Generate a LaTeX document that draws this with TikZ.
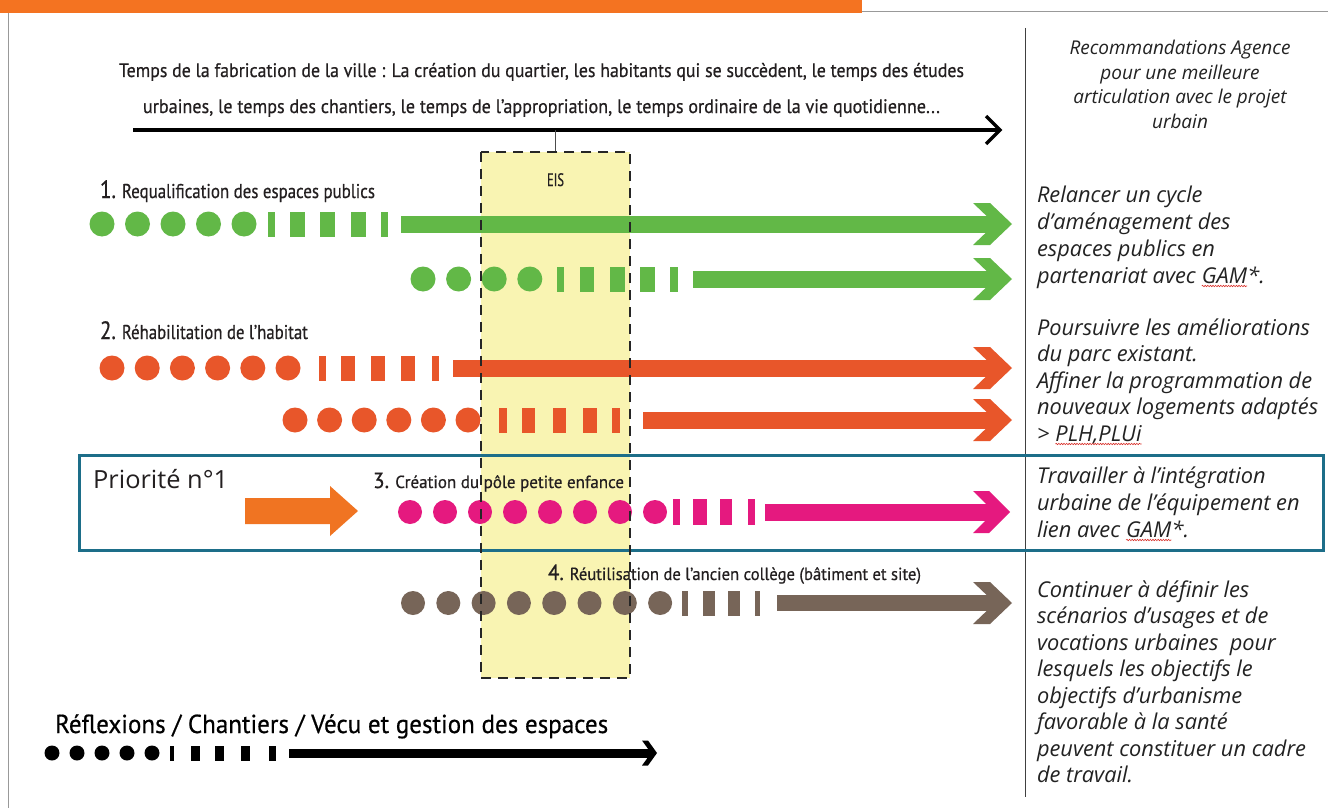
\documentclass[tikz,border=0pt]{standalone}
\usepackage{fontspec}
\setmainfont[FakeBold=0.6]{PT Sans}
\newfontfamily\osans{Open Sans}
\usepackage{graphicx}
\usetikzlibrary{decorations.pathmorphing}
\definecolor{barorg}{HTML}{F47321}
\definecolor{grn}{HTML}{62B847}
\definecolor{rorg}{HTML}{E8562A}
\definecolor{mag}{HTML}{E5197F}
\definecolor{brn}{HTML}{776558}
\definecolor{porg}{HTML}{F07422}
\definecolor{eisy}{HTML}{F9F4B2}
\definecolor{blu}{HTML}{1D6E89}
\definecolor{ink}{HTML}{231F20}
\definecolor{rtink}{HTML}{222222}
\definecolor{wavered}{HTML}{D9302A}
\newsavebox\fitbox
\newcommand\fitw[2]{\sbox\fitbox{#2}\pgfmathsetmacro\fitsx{#1/\the\wd\fitbox}\scalebox{\fitsx}[1]{\usebox\fitbox}}
\newcommand\fs[1]{\fontsize{#1}{#1}\selectfont}
\newcommand\redwave[1]{\tikz[baseline=(w.base), x=1pt, y=1pt]{\node[inner sep=0pt, outer sep=0pt, anchor=base west] (w) at (0,0) {#1};
  \draw[wavered, line width=0.6pt, decorate, decoration={snake, amplitude=0.7pt, segment length=2.6pt}] ([yshift=-3pt]w.base west) -- ([yshift=-3pt]w.base east);}}
% dot row: colour, y, x0, dx, last index, radius
\newcommand\drow[6]{\foreach \k in {0,...,#5} \fill[#1] ({#3+#4*\k},#2) circle[radius=#6];}
% bar row: colour, y, half height, list x1/x2
\newcommand\brow[4]{\foreach \a/\b in {#4} \fill[#1] (\a,#2-#3) rectangle (\b,#2+#3);}
% arrow line: colour, start, tip, line width, head depth, half height, arm width
\newcommand\arrowline[7]{%
  \draw[#1, line width=#4pt] (#2) -- ([xshift={-0.6*#7}]#3);
  \fill[#1] ([shift={(-#5,-#6)}]#3) -- ([shift={(-#5+#7,-#6)}]#3) -- (#3)
    -- ([shift={(-#5+#7,#6)}]#3) -- ([shift={(-#5,#6)}]#3) -- ([shift={(-#7,0)}]#3) -- cycle;}
\tikzset{
  lab/.style={anchor=base west, inner sep=0pt, outer sep=0pt, text=ink, font={\fs{20}}},
  labs/.style={anchor=base west, inner sep=0pt, outer sep=0pt, text=ink, font={\fs{17.5}}},
  toptext/.style={anchor=base, inner sep=0pt, outer sep=0pt, text=ink, font={\fs{19.5}}},
  rhead/.style={anchor=base, inner sep=0pt, outer sep=0pt, text=rtink, font={\osans\itshape\fs{19}}},
  rtext/.style={anchor=base west, inner sep=0pt, outer sep=0pt, text=rtink, font={\osans\itshape\fs{21.8}}},
  frameline/.style={draw=gray!80, line width=1pt},
  eisborder/.style={draw=black!85, line width=1.8pt, dash pattern=on 10pt off 7pt}
}
\begin{document}
\begin{tikzpicture}[x=1pt,y=-1pt]
\useasboundingbox (0,0) rectangle (1328,808);
\fill[white] (0,0) rectangle (1328,808);
% frame
\coordinate (f0) at (8,808); \coordinate (f1) at (8,12); \coordinate (f2) at (1328,12);
\draw[frameline] (f0) -- (f1) -- (f2);
\fill[barorg] (0,0) rectangle (862,13);
% separator
\coordinate (s0) at (1025,28); \coordinate (s1) at (1025,797);
\draw[draw=black!75, line width=1pt] (s0) -- (s1);
% EIS band
\node[fill=eisy, minimum width=149pt, minimum height=526pt, inner sep=0pt] (eis) at (555.5,415) {};
% priority box
\node[draw=blu, line width=3pt, minimum width=1244pt, minimum height=95pt, inner sep=0pt] (prio) at (701,502.5) {};
% timeline
\node[toptext] (t1) at (541.5,77) {\fitw{845}{Temps de la fabrication de la ville : La création du quartier, les habitants qui se succèdent, le temps des études}};
\node[toptext] (t2) at (541.5,113) {\fitw{797}{urbaines, le temps des chantiers, le temps de l’appropriation, le temps ordinaire de la vie quotidienne...}};
\coordinate (tl0) at (133,130); \coordinate (tl1) at (1000,130);
\draw[line width=3.5pt] (tl0) -- ([xshift=-1]tl1);
\draw[line width=3.5pt] ([shift={(-14,-14)}]tl1) -- (tl1) -- ([shift={(-14,14)}]tl1);
\draw[line width=1pt, black!70] (eis.north |- tl0) -- (eis.north);
\node[anchor=base, inner sep=0pt, text=ink, font={\fs{18}}] (eislab) at (555.5,186) {\fitw{17}{EIS}};
% row 1
\node[lab] (l1) at (100,198) {\fitw{275}{{\fs{25}1.} Requalification des espaces publics}};
\drow{grn}{224}{102}{35.5}{4}{12.5}
\brow{grn}{224}{12.5}{268/275,290/305,320/335,351/366,381/388}
\coordinate (r1s) at (401,224); \coordinate (r1e) at (1012,224);
\arrowline{grn}{r1s}{r1e}{17}{39}{21}{17}
% row 2
\drow{grn}{279}{423}{35.6}{3}{12.5}
\brow{grn}{279}{12.5}{557/564,580/594,610/625,640/655,670/678}
\coordinate (r2s) at (693,279); \coordinate (r2e) at (1012,279);
\arrowline{grn}{r2s}{r2e}{17}{39}{21}{17}
% row 3
\node[lab] (l2) at (100,339) {\fitw{208}{{\fs{25}2.} Réhabilitation de l’habitat}};
\drow{rorg}{368}{112}{35.2}{5}{12.5}
\brow{rorg}{368}{12.5}{319/326,341/355,371/385,401/415,432/439}
\coordinate (r3s) at (453,368); \coordinate (r3e) at (1012,368);
\arrowline{rorg}{r3s}{r3e}{17}{39}{21}{17}
% row 4
\drow{rorg}{420}{295}{34.6}{5}{12.5}
\brow{rorg}{420}{12.5}{499/507,522/535,553/566,583/597,612/620}
\coordinate (r4s) at (643,420); \coordinate (r4e) at (1012,420);
\arrowline{rorg}{r4s}{r4e}{17}{39}{21}{17}
% priority
\node[anchor=base west, inner sep=0pt, text=ink, font={\osans\fs{25}}] (prlab) at (93,488) {\fitw{135}{Priorité n°1}};
\coordinate (p0) at (245,511); \coordinate (p1) at (358,511);
\fill[porg] ([shift={(0,-13)}]p0) -- ([shift={(-28,-13)}]p1) -- ([shift={(-28,-25)}]p1) -- (p1)
  -- ([shift={(-28,25)}]p1) -- ([shift={(-28,13)}]p1) -- ([shift={(0,13)}]p0) -- cycle;
% row 5
\node[labs] (l3) at (373,488) {\fitw{251}{{\fs{22}3.} Création du pôle petite enfance}};
\drow{mag}{512}{410}{35}{7}{12}
\brow{mag}{512}{13}{673/680,693/707,720/732,748/755}
\coordinate (r5s) at (765,512); \coordinate (r5e) at (1010,512);
\arrowline{mag}{r5s}{r5e}{17}{37}{21}{16}
% row 6
\node[labs] (l4) at (548,580) {\fitw{373}{{\fs{22}4.} Réutilisation de l’ancien collège (bâtiment et site)}};
\drow{brn}{603}{413}{35.3}{7}{12}
\brow{brn}{603}{12.5}{682/688,703/715,728/740,755/760}
\coordinate (r6s) at (777,603); \coordinate (r6e) at (1012,603);
\arrowline{brn}{r6s}{r6e}{16}{39}{21}{17}
% EIS dashed border on top
\draw[eisborder] (eis.north west) rectangle (eis.south east);
% legend
\node[anchor=base west, inner sep=0pt, text=black, font={\fs{26}}] (leg) at (55,733) {\fitw{553}{Réflexions / Chantiers / Vécu et gestion des espaces}};
\drow{black}{753}{52}{25}{4}{7.5}
\brow{black}{753}{7.5}{170/174,191/200,215/224,241/250,269/276}
\coordinate (lgs) at (289,753); \coordinate (lge) at (657,753);
\arrowline{black}{lgs}{lge}{9}{15}{12.5}{6}
% right column
\foreach \t [count=\i from 0] in {Recommandations Agence, pour une meilleure, articulation avec le projet, urbain}
  \node[rhead] (h\i) at (1180,{55+24.4*\i}) {\t};
\foreach \t [count=\i from 0] in {Relancer un cycle, d’aménagement des, espaces publics en, partenariat avec \redwave{GAM}*.}
  \node[rtext] (ra\i) at (1037,{202+27*\i}) {\t};
\foreach \t [count=\i from 0] in {Poursuivre les améliorations, du parc existant., Affiner la programmation de, nouveaux logements adaptés, {> \redwave{PLH,PLUi}}}
  \node[rtext] (rb\i) at (1037,{335+26.5*\i}) {\t};
\foreach \t [count=\i from 0] in {Travailler à l’intégration, urbaine de l’équipement en, lien avec \redwave{GAM}*.}
  \node[rtext] (rc\i) at (1037,{483+27*\i}) {\t};
\foreach \t [count=\i from 0] in {Continuer à définir les, scénarios d’usages et de, vocations urbaines~ pour, lesquels les objectifs le, objectifs d’urbanisme, favorable à la santé, peuvent constituer un cadre, de travail.}
  \node[rtext] (rd\i) at (1037,{597+26.5*\i}) {\t};
\end{tikzpicture}
\end{document}
